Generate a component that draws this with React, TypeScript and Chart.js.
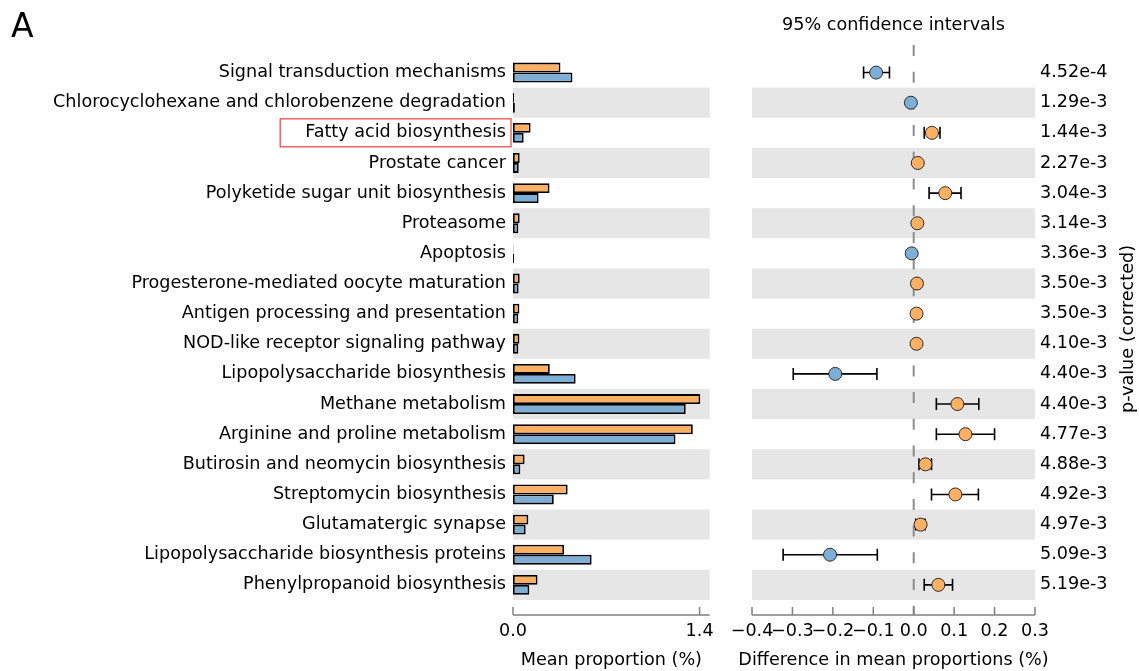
import React, { useEffect, useRef } from 'react';
import { Chart, registerables } from 'chart.js';

Chart.register(...registerables);

const categories = [
  'Signal transduction mechanisms',
  'Chlorocyclohexane and chlorobenzene degradation',
  'Fatty acid biosynthesis',
  'Prostate cancer',
  'Polyketide sugar unit biosynthesis',
  'Proteasome',
  'Apoptosis',
  'Progesterone-mediated oocyte maturation',
  'Antigen processing and presentation',
  'NOD-like receptor signaling pathway',
  'Lipopolysaccharide biosynthesis',
  'Methane metabolism',
  'Arginine and proline metabolism',
  'Butirosin and neomycin biosynthesis',
  'Streptomycin biosynthesis',
  'Glutamatergic synapse',
  'Lipopolysaccharide biosynthesis proteins',
  'Phenylpropanoid biosynthesis',
];

// mean proportion (%) – orange group
const meanOrange = [0.356, 0.008, 0.132, 0.05, 0.274, 0.05, 0.003, 0.05, 0.048, 0.048, 0.276, 1.405, 1.349, 0.087, 0.41, 0.115, 0.383, 0.184];
// mean proportion (%) – blue group
const meanBlue = [0.446, 0.014, 0.08, 0.043, 0.192, 0.04, 0.008, 0.042, 0.04, 0.04, 0.47, 1.296, 1.219, 0.055, 0.306, 0.095, 0.59, 0.122];

// difference in mean proportions and 95% CI
const diffMean = [-0.093, -0.007, 0.045, 0.01, 0.078, 0.009, -0.005, 0.008, 0.007, 0.007, -0.194, 0.108, 0.128, 0.029, 0.103, 0.017, -0.207, 0.061];
const ciLower = [-0.124, -0.010, 0.026, 0.006, 0.038, 0.005, -0.007, 0.004, 0.003, 0.003, -0.298, 0.056, 0.056, 0.013, 0.044, 0.005, -0.323, 0.026];
const ciUpper = [-0.060, -0.004, 0.065, 0.014, 0.117, 0.013, -0.003, 0.012, 0.011, 0.011, -0.091, 0.161, 0.2, 0.044, 0.16, 0.028, -0.09, 0.096];

const pValues = ['4.52e-4', '1.29e-3', '1.44e-3', '2.27e-3', '3.04e-3', '3.14e-3', '3.36e-3', '3.50e-3', '3.50e-3', '4.10e-3', '4.40e-3', '4.40e-3', '4.77e-3', '4.88e-3', '4.92e-3', '4.97e-3', '5.09e-3', '5.19e-3'];

const barTicks = [0, 1.4];
const diffTicks = [-0.4, -0.3, -0.2, -0.1, 0, 0.1, 0.2, 0.3];

const ORANGE = '#FFB062';
const BLUE = '#7DAFD6';
const BAND = '#E6E6E6';
const AXIS = '#808080';
const FONT = '"DejaVu Sans", sans-serif';
const FS = 17.6;
const HIGHLIGHT = 'Fatty acid biosynthesis';

const W = 1139;
const H = 671;
const TOP = 57.5;
const AXIS_Y = 615;
const LEFT_W = 720;

function drawBands(chart: any) {
  const { ctx, chartArea } = chart;
  const y = chart.scales.y;
  const half = Math.abs(y.getPixelForValue(1) - y.getPixelForValue(0)) / 2;
  ctx.save();
  ctx.fillStyle = BAND;
  categories.forEach((_, i) => {
    if (i % 2 === 1) {
      const yc = y.getPixelForValue(i);
      ctx.fillRect(chartArea.left, yc - half, chartArea.right - chartArea.left, half * 2);
    }
  });
  ctx.restore();
}

function drawXAxis(chart: any, ticks: number[]) {
  const { ctx, chartArea } = chart;
  const x = chart.scales.x;
  ctx.save();
  ctx.strokeStyle = AXIS;
  ctx.lineWidth = 1.5;
  ctx.beginPath();
  ctx.moveTo(chartArea.left, AXIS_Y);
  ctx.lineTo(chartArea.right, AXIS_Y);
  ticks.forEach((t) => {
    const px = x.getPixelForValue(t);
    ctx.moveTo(px, AXIS_Y);
    ctx.lineTo(px, AXIS_Y - 8);
  });
  ctx.stroke();
  ctx.restore();
}

const leftPlugin = {
  id: 'leftDecor',
  beforeDatasetsDraw(chart: any) {
    drawBands(chart);
  },
  afterDraw(chart: any) {
    const { ctx, chartArea } = chart;
    drawXAxis(chart, barTicks);
    const y = chart.scales.y;
    ctx.save();
    ctx.fillStyle = '#000';
    ctx.font = `${FS}px ${FONT}`;
    ctx.textAlign = 'center';
    ctx.textBaseline = 'middle';
    ctx.fillText('Mean proportion (%)', (chartArea.left + chartArea.right) / 2 + 0, 660);
    ctx.font = `33px ${FONT}`;
    ctx.textAlign = 'left';
    ctx.textBaseline = 'alphabetic';
    ctx.fillText('A', 11, 37);
    // highlight box
    const idx = categories.indexOf(HIGHLIGHT);
    ctx.font = `${FS}px ${FONT}`;
    const w = ctx.measureText(HIGHLIGHT).width;
    const right = chartArea.left - 7;
    const yc = y.getPixelForValue(idx);
    ctx.strokeStyle = '#E8413F';
    ctx.lineWidth = 1.2;
    ctx.strokeRect(right - w - 25, yc - 14, w + 30, 28);
    ctx.restore();
  },
};

const rightPlugin = {
  id: 'rightDecor',
  beforeDatasetsDraw(chart: any) {
    const { ctx } = chart;
    drawBands(chart);
    const x = chart.scales.x;
    const y = chart.scales.y;
    // zero dashed line
    ctx.save();
    ctx.strokeStyle = '#8C8C8C';
    ctx.lineWidth = 2;
    ctx.setLineDash([11, 15.7]);
    const x0 = x.getPixelForValue(0);
    ctx.beginPath();
    ctx.moveTo(x0, 45);
    ctx.lineTo(x0, AXIS_Y);
    ctx.stroke();
    ctx.setLineDash([]);
    // error bars
    ctx.strokeStyle = '#000';
    ctx.lineWidth = 1.6;
    ctx.beginPath();
    diffMean.forEach((_, i) => {
      const yc = y.getPixelForValue(i);
      const xl = x.getPixelForValue(ciLower[i]);
      const xr = x.getPixelForValue(ciUpper[i]);
      ctx.moveTo(xl, yc);
      ctx.lineTo(xr, yc);
      ctx.moveTo(xl, yc - 6);
      ctx.lineTo(xl, yc + 6);
      ctx.moveTo(xr, yc - 6);
      ctx.lineTo(xr, yc + 6);
    });
    ctx.stroke();
    ctx.restore();
  },
  afterDraw(chart: any) {
    const { ctx, chartArea } = chart;
    drawXAxis(chart, diffTicks);
    const cx = (chartArea.left + chartArea.right) / 2;
    ctx.save();
    ctx.fillStyle = '#000';
    ctx.font = `${FS}px ${FONT}`;
    ctx.textAlign = 'center';
    ctx.textBaseline = 'middle';
    ctx.fillText('95% confidence intervals', cx, 25);
    ctx.fillText('Difference in mean proportions (%)', cx, 660);
    ctx.translate(1128 - LEFT_W, 329);
    ctx.rotate(-Math.PI / 2);
    ctx.fillText('p-value (corrected)', 0, 0);
    ctx.restore();
  },
};

export default function App() {
  const leftRef = useRef<HTMLCanvasElement>(null);
  const rightRef = useRef<HTMLCanvasElement>(null);

  useEffect(() => {
    const tickFont = { family: FONT, size: FS };
    const left = new Chart(leftRef.current as HTMLCanvasElement, {
      type: 'bar',
      data: {
        datasets: [
          {
            label: 'orange',
            data: meanOrange.map((v, i) => ({ x: v, y: i })),
            backgroundColor: ORANGE,
            borderColor: '#000',
            borderWidth: 1.8,
            borderSkipped: false,
            categoryPercentage: 0.66,
            barPercentage: 1,
          },
          {
            label: 'blue',
            data: meanBlue.map((v, i) => ({ x: v, y: i })),
            backgroundColor: BLUE,
            borderColor: '#000',
            borderWidth: 1.8,
            borderSkipped: false,
            categoryPercentage: 0.66,
            barPercentage: 1,
          },
        ],
      } as any,
      options: {
        indexAxis: 'y',
        animation: false,
        responsive: false,
        layout: { padding: { top: TOP, right: 8, left: 0, bottom: 0 } },
        scales: {
          x: {
            type: 'linear',
            position: 'bottom',
            min: 0,
            max: 1.476,
            offset: false,
            afterFit: (s: any) => { s.height = H - AXIS_Y; },
            afterBuildTicks: (s: any) => { s.ticks = barTicks.map((v) => ({ value: v })); },
            grid: { display: false, drawTicks: false, offset: false },
            border: { display: false },
            ticks: {
              autoSkip: false,
              maxRotation: 0,
              minRotation: 0,
              color: '#000',
              font: tickFont,
              padding: 6,
              callback: (v: any) => Number(v).toFixed(1),
            },
          },
          y: {
            type: 'linear',
            position: 'left',
            min: -0.5,
            max: 18,
            reverse: true,
            offset: false,
            afterFit: (s: any) => { s.width = 513; },
            afterBuildTicks: (s: any) => { s.ticks = categories.map((_, i) => ({ value: i })); },
            grid: { display: false, drawTicks: false, offset: false },
            border: { display: false },
            ticks: {
              autoSkip: false,
              color: '#000',
              font: tickFont,
              padding: 7,
              callback: (v: any) => categories[Math.round(Number(v))] ?? '',
            },
          },
        },
        plugins: { legend: { display: false }, tooltip: { enabled: false }, title: { display: false } },
      } as any,
      plugins: [leftPlugin],
    });

    const right = new Chart(rightRef.current as HTMLCanvasElement, {
      type: 'scatter',
      data: {
        datasets: [
          {
            label: 'diff',
            data: diffMean.map((v, i) => ({ x: v, y: i })),
            pointRadius: 6.5,
            pointBackgroundColor: diffMean.map((v) => (v > 0 ? ORANGE : BLUE)),
            pointBorderColor: '#2b2b2b',
            pointBorderWidth: 1,
            showLine: false,
          },
        ],
      } as any,
      options: {
        animation: false,
        responsive: false,
        layout: { padding: { top: TOP, right: 0, left: 32, bottom: 0 } },
        scales: {
          x: {
            type: 'linear',
            position: 'bottom',
            min: -0.4,
            max: 0.3,
            afterFit: (s: any) => { s.height = H - AXIS_Y; },
            afterBuildTicks: (s: any) => { s.ticks = diffTicks.map((v) => ({ value: v })); },
            grid: { display: false, drawTicks: false },
            border: { display: false },
            ticks: {
              autoSkip: false,
              maxRotation: 0,
              minRotation: 0,
              color: '#000',
              font: tickFont,
              padding: 6,
              callback: (v: any) => {
                const n = Number(v);
                return (n < -1e-9 ? '\u2212' : '') + Math.abs(n).toFixed(1);
              },
            },
          },
          y: {
            type: 'linear',
            position: 'right',
            min: -0.5,
            max: 18,
            reverse: true,
            afterFit: (s: any) => { s.width = W - 1035; },
            afterBuildTicks: (s: any) => { s.ticks = pValues.map((_, i) => ({ value: i })); },
            grid: { display: false, drawTicks: false },
            border: { display: false },
            ticks: {
              autoSkip: false,
              color: '#000',
              font: tickFont,
              padding: 5,
              callback: (v: any) => pValues[Math.round(Number(v))] ?? '',
            },
          },
        },
        plugins: { legend: { display: false }, tooltip: { enabled: false } },
      } as any,
      plugins: [rightPlugin],
    });

    return () => {
      left.destroy();
      right.destroy();
    };
  }, []);

  return (
    <div style={{ position: 'absolute', left: 0, top: 0, width: W, height: H, background: '#fff' }}>
      <canvas
        ref={leftRef}
        width={LEFT_W}
        height={H}
        style={{ position: 'absolute', left: 0, top: 0, width: LEFT_W, height: H }}
      />
      <canvas
        ref={rightRef}
        width={W - LEFT_W}
        height={H}
        style={{ position: 'absolute', left: LEFT_W, top: 0, width: W - LEFT_W, height: H }}
      />
    </div>
  );
}
